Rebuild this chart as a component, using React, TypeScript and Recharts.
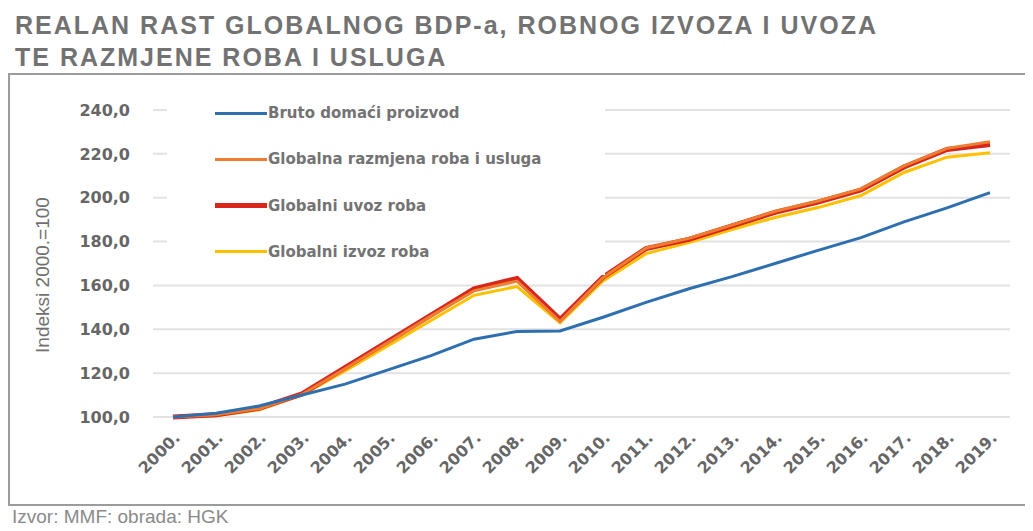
import { CartesianGrid, Line, LineChart, XAxis, YAxis } from "recharts";

const YEARS = ["2000.", "2001.", "2002.", "2003.", "2004.", "2005.", "2006.", "2007.", "2008.", "2009.", "2010.", "2011.", "2012.", "2013.", "2014.", "2015.", "2016.", "2017.", "2018.", "2019."];
const GDP = [100, 101.7, 105, 110, 115, 121.5, 128, 135.5, 139, 139.2, 145.5, 152.3, 158.5, 164, 170, 176, 181.8, 189, 195.4, 202.3];
const TRADE = [100, 101, 103.8, 110.3, 122, 134, 146, 157.5, 162, 143.5, 163.5, 177, 181.5, 187.5, 193.8, 198.5, 204, 214.5, 222.5, 225.5];
const IMPORTS = [100, 101, 104, 110.5, 122.5, 134.5, 146.5, 158.5, 163.2, 144.5, 163.8, 176.8, 181, 187.2, 193.3, 198, 203.5, 214, 222, 224.3];
const EXPORTS = [100, 100.6, 103.3, 110, 121, 132.5, 144, 155.5, 159.5, 143, 162, 174.5, 179.5, 185.5, 191, 195.5, 201, 211.5, 218.5, 220.5];
const Y_TICKS = [100, 120, 140, 160, 180, 200, 220, 240];

const SERIES = [
  { key: "gdp", name: "Bruto domaći proizvod", color: "#2e6fb0", width: 3 },
  { key: "trade", name: "Globalna razmjena roba i usluga", color: "#ed7d31", width: 3 },
  { key: "imports", name: "Globalni uvoz roba", color: "#d9261c", width: 5 },
  { key: "exports", name: "Globalni izvoz roba", color: "#ffc000", width: 3 },
];

const data = YEARS.map((year, i) => ({
  year,
  gdp: GDP[i],
  trade: TRADE[i],
  imports: IMPORTS[i],
  exports: EXPORTS[i],
}));

const SANS = "'Liberation Sans', Arial, sans-serif";
const WIDE = "'DejaVu Sans', Verdana, sans-serif";

function LegendBox() {
  return (
    <div
      style={{
        position: "absolute",
        left: 167,
        top: 90,
        width: 438,
        height: 185,
        background: "#fff",
      }}
    >
      {SERIES.map((s, i) => (
        <div
          key={s.key}
          style={{ position: "absolute", top: 23 + i * 46.3 - 10, left: 0, height: 20, display: "flex", alignItems: "center" }}
        >
          <span
            style={{
              display: "inline-block",
              width: 52,
              height: s.width,
              background: s.color,
              marginLeft: 48,
              marginRight: 1,
            }}
          />
          <span style={{ fontFamily: WIDE, fontSize: 15, color: "#737373", fontWeight: 700, whiteSpace: "nowrap" }}>{s.name}</span>
        </div>
      ))}
    </div>
  );
}

export default function App() {
  return (
    <div style={{ position: "relative", margin: -8, width: 1033, height: 531, overflow: "hidden", background: "#fff" }}>
      <div
        style={{
          position: "absolute",
          left: 15,
          top: 9,
          fontFamily: SANS,
          fontWeight: 700,
          fontSize: 25,
          lineHeight: "32px",
          letterSpacing: 2,
          color: "#727272",
          whiteSpace: "nowrap",
        }}
      >
        REALAN RAST GLOBALNOG BDP-a, ROBNOG IZVOZA I UVOZA
        <br />
        TE RAZMJENE ROBA I USLUGA
      </div>
      <div
        style={{
          position: "absolute",
          left: 8,
          top: 73,
          width: 1040,
          height: 433,
          border: "2px solid #9c9c9c",
          boxSizing: "border-box",
        }}
      />
      <div style={{ position: "absolute", left: 0, top: 0 }}>
        <LineChart width={1033} height={531} data={data} margin={{ top: 110, right: 23, bottom: 54, left: 83 }}>
          <CartesianGrid vertical={false} stroke="#e2e2e2" strokeWidth={2} />
          <XAxis
            dataKey="year"
            axisLine={false}
            tickLine={false}
            interval={0}
            height={60}
            padding={{ left: 20, right: 20 }}
            angle={-45}
            textAnchor="end"
            tickMargin={8}
            tick={{ fontFamily: WIDE, fontSize: 16, fill: "#666", fontWeight: 700 }}
          />
          <YAxis
            domain={[100, 240]}
            ticks={Y_TICKS}
            width={70}
            axisLine={false}
            tickLine={false}
            tickMargin={17}
            tickFormatter={(v) => Number(v).toFixed(1).replace(".", ",")}
            tick={{ fontFamily: WIDE, fontSize: 16, fill: "#666", fontWeight: 700 }}
          />
          <Line dataKey="exports" name="Globalni izvoz roba" stroke="#ffc000" strokeWidth={3} dot={false} isAnimationActive={false} />
          <Line dataKey="imports" name="Globalni uvoz roba" stroke="#d9261c" strokeWidth={5} dot={false} isAnimationActive={false} />
          <Line dataKey="trade" name="Globalna razmjena roba i usluga" stroke="#ed7d31" strokeWidth={3} dot={false} isAnimationActive={false} />
          <Line dataKey="gdp" name="Bruto domaći proizvod" stroke="#2e6fb0" strokeWidth={3} dot={false} isAnimationActive={false} />
        </LineChart>
      </div>
      <LegendBox />
      <div
        style={{
          position: "absolute",
          left: 43,
          top: 275,
          transform: "translate(-50%, -50%) rotate(-90deg)",
          fontFamily: SANS,
          fontSize: 19,
          color: "#707070",
          whiteSpace: "nowrap",
        }}
      >
        Indeksi 2000.=100
      </div>
      <div
        style={{
          position: "absolute",
          left: 12,
          top: 507,
          fontFamily: SANS,
          fontSize: 19,
          lineHeight: "19px",
          color: "#8a8a8a",
          whiteSpace: "nowrap",
        }}
      >
        Izvor: MMF; obrada: HGK
      </div>
    </div>
  );
}
